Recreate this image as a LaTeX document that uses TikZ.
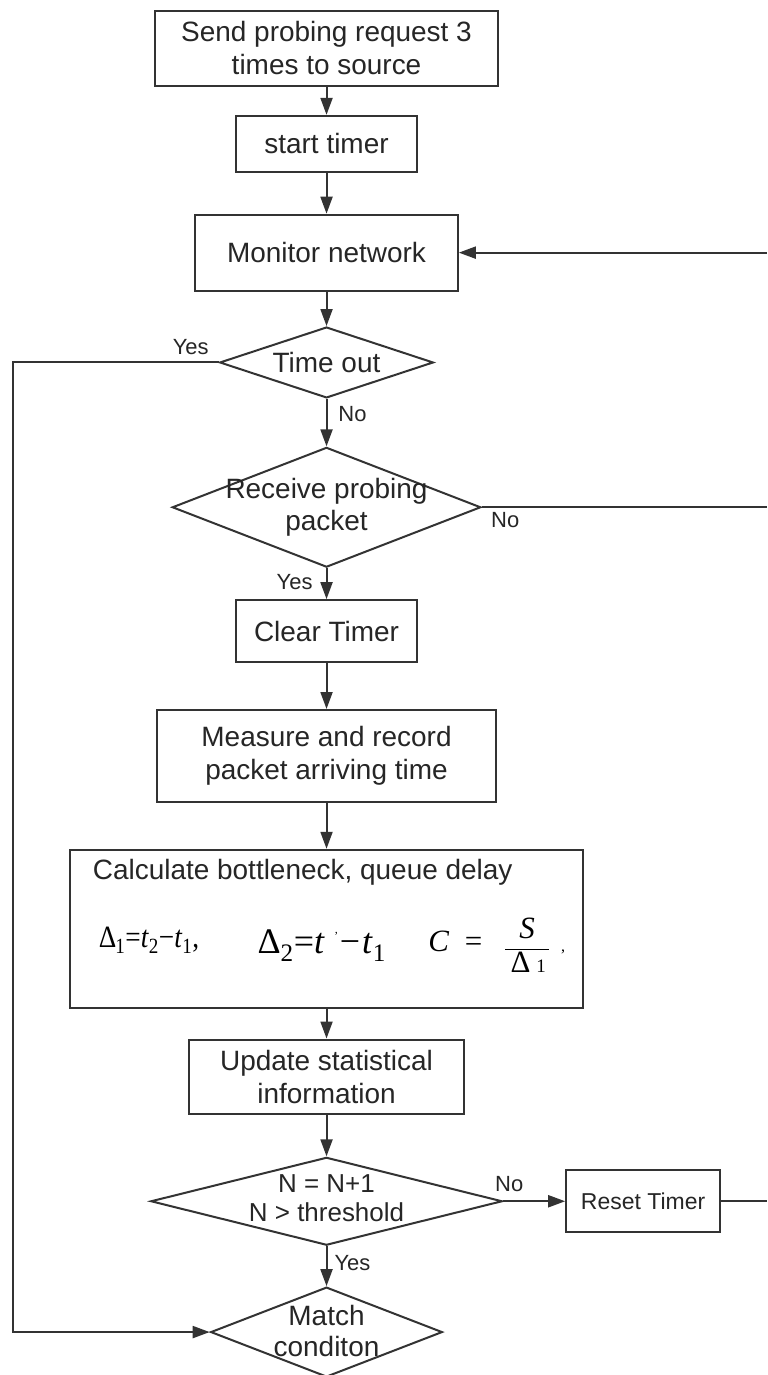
\documentclass[tikz,border=0pt]{standalone}
\usepackage{fontspec}
\setmainfont{Liberation Sans}
\newfontfamily\tms{Liberation Serif}
\usetikzlibrary{shapes.geometric,arrows.meta}

\begin{document}
\begin{tikzpicture}[x=1pt,y=-1pt,
  line width=2pt,
  every path/.style={draw=black!80},
  box/.style={draw=black!80, rectangle, inner sep=0pt, align=center,
    font=\fontsize{28}{33}\selectfont, text=black!85},
  dia/.style={draw=black!80, diamond, inner sep=0pt, aspect=1},
  dtxt/.style={align=center, inner sep=0pt, font=\fontsize{28}{32}\selectfont, text=black!85},
  lbl/.style={inner sep=0pt, font=\fontsize{22}{22}\selectfont, text=black!85},
  arr/.style={-{Triangle[length=17pt,width=12pt]}},
  fml/.style={inner sep=0pt, anchor=base west, text=black}
]
\useasboundingbox (0,0) rectangle (767,1375);
\fill[white] (0,0) rectangle (767,1375);

% process boxes
\node[box, minimum width=343, minimum height=75] (send) at (326,47.5)
  {Send probing request 3\\times to source};
\node[box, minimum width=182, minimum height=56] (start) at (326,143) {start timer};
\node[box, minimum width=263, minimum height=76] (mon) at (326,252) {Monitor network};
\node[box, minimum width=182, minimum height=62] (clr) at (326,631) {Clear Timer};
\node[box, minimum width=340, minimum height=92] (meas) at (326,756)
  {Measure and record\\packet arriving time};
\node[box, minimum width=514, minimum height=158] (calc) at (326,929) {};
\node[box, minimum width=276, minimum height=75] (upd) at (326,1077.5)
  {Update statistical\\information};
\node[box, minimum width=154, minimum height=62, font=\fontsize{23}{23}\selectfont] (rst) at (643,1202)
  {Reset Timer};

% decisions
\node[dia, minimum width=214, minimum height=71] (tout) at (326,362) {};
\node[dtxt] (toutT) at (tout.center) {Time out};
\node[dia, minimum width=309, minimum height=120] (rcv) at (326,507) {};
\node[dtxt] (rcvT) at (rcv.center) {Receive probing\\packet};
\node[dia, minimum width=352, minimum height=88] (cnt) at (326,1202) {};
\node[dtxt, font=\fontsize{26}{29}\selectfont] (cntT) at (326,1199) {N = N+1\\N > threshold};
\node[dia, minimum width=232, minimum height=90] (mtc) at (326,1333) {};
\node[dtxt, font=\fontsize{28}{31}\selectfont] (mtcT) at (326,1332) {Match\\conditon};

% contents of the calculation box
\node[inner sep=0pt, anchor=west, font=\fontsize{28}{28}\selectfont, text=black!85] (calcT) at (91,873)
  {Calculate bottleneck, queue delay};
\node[fml, font=\fontsize{31}{31}\tms] (f1) at (97,948)
  {\scalebox{0.88}[1]{Δ\kern-1pt\textsubscript{1}=\textit{t}\textsubscript{2}−\textit{t}\textsubscript{1},}};
\node[fml, font=\fontsize{36}{36}\tms] (f2) at (256,954)
  {Δ\textsubscript{2}=\textit{t}\kern10pt\raisebox{0.55em}{\fontsize{12}{12}\selectfont ,}\kern2pt−\kern2pt\textit{t}\textsubscript{1}};
\node[fml, font=\fontsize{31}{31}\tms] (f3) at (427,952) {\textit{C}\enspace=};
\node[inner sep=0pt, font=\fontsize{31}{31}\tms, text=black] (f4) at (527,946)
  {$\displaystyle\frac{\hbox{\textit{S}}}{\hbox{\,Δ\kern6pt\fontsize{19}{19}\selectfont 1\,}}$};
\node[fml, font=\fontsize{16}{16}\tms] (f5) at (560,952) {,};

% connectors
\coordinate (eTop) at (767,252);
\coordinate (eMid) at (767,507);
\coordinate (eBot) at (767,1202);
\coordinate (cL1) at (12,362);
\coordinate (cL2) at (12,1333);

\draw[arr] (send.south) -- (start.north);
\draw[arr] (start.south) -- (mon.north);
\draw[arr] (mon.south) -- (tout.north);
\draw[arr] (tout.south) -- (rcv.north);
\draw[arr] (rcv.south) -- (clr.north);
\draw[arr] (clr.south) -- (meas.north);
\draw[arr] (meas.south) -- (calc.north);
\draw[arr] (calc.south) -- (upd.north);
\draw[arr] (upd.south) -- (cnt.north);
\draw[arr] (cnt.south) -- (mtc.north);
\draw[arr] (cnt.east) -- (rst.west);
\draw (rst.east) -- (eBot);
\draw (rcv.east) -- (eMid);
\draw[arr] (eTop) -- (mon.east);
\draw[arr] (tout.west) -- (cL1) -- (cL2) -- (mtc.west);

% branch labels
\node[lbl] (yTout) at (190,347) {Yes};
\node[lbl] (nTout) at (352,414) {No};
\node[lbl] (yRcv) at (294,582) {Yes};
\node[lbl] (nRcv) at (505,520) {No};
\node[lbl] (nCnt) at (509,1185) {No};
\node[lbl] (yCnt) at (352,1264) {Yes};
\end{tikzpicture}
\end{document}
